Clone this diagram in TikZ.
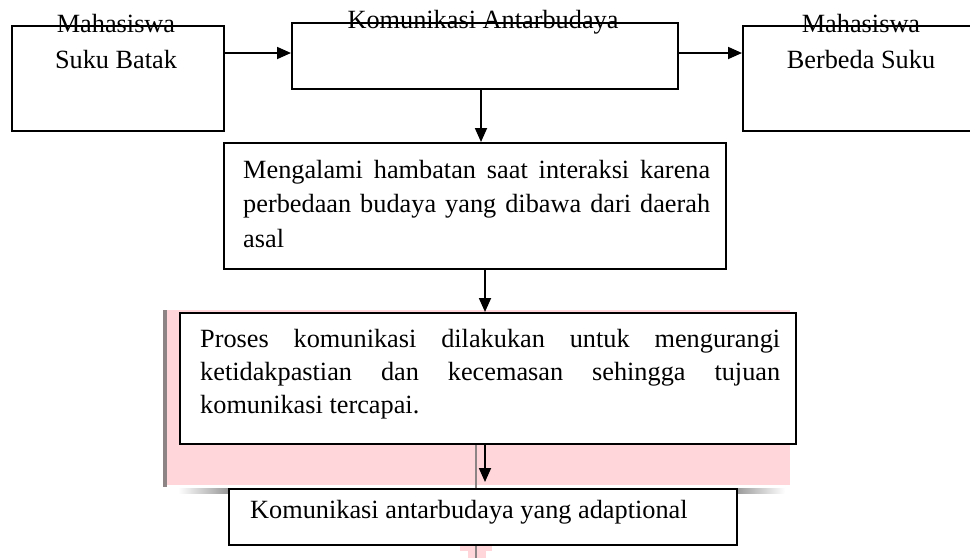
\documentclass[tikz,border=0pt]{standalone}
\usepackage{fontspec}
\setmainfont{Liberation Serif}
\usetikzlibrary{arrows.meta}
\definecolor{pinkbg}{RGB}{255,215,218}
\definecolor{bargray}{RGB}{140,132,133}
\tolerance=10000
\hbadness=10000
\begin{document}
\begin{tikzpicture}[x=1pt,y=-1pt,
  box/.style={draw, line width=1.8pt, fill=white, inner sep=0, anchor=north west},
  arr/.style={-{Triangle[length=14pt,width=12pt]}, line width=1.8pt},
  lbl/.style={inner sep=0, anchor=base, font=\fontsize{26.3}{30}\selectfont},
  para/.style={inner sep=0, anchor=base west, align=justify, font=\fontsize{26.3}{34.5}\selectfont}]
\clip (0,0) rectangle (970,558);
\fill[white] (0,0) rectangle (970,558);
% background decorations
\fill[pinkbg] (163,310) rectangle (790,485);
\fill[bargray] (163,310) rectangle (167,487);
\shade[left color=white, right color=gray!80] (178,488) rectangle (228,493);
\shade[left color=gray!80, right color=white] (736,488) rectangle (785,493);
\draw[bargray, line width=1.5pt] (476,443) -- (476,488);
\fill[pinkbg] (460,545) rectangle (492,551);
\fill[pinkbg] (468,551) rectangle (486,558);
\draw[bargray, line width=1.5pt] (476,545) -- (476,558);
% boxes
\node[box, minimum width=212pt, minimum height=105pt] (mhs1) at (11,25) {};
\node[box, minimum width=386pt, minimum height=66pt] (komb) at (291,22) {};
\node[box, minimum width=260pt, minimum height=105pt] (mhs2) at (742,25) {};
\node[box, minimum width=502pt, minimum height=126pt] (hamb) at (223,142) {};
\node[box, minimum width=616pt, minimum height=131pt] (pros) at (179,312) {};
\node[box, minimum width=508pt, minimum height=56pt] (adap) at (228,488) {};
% connectors
\coordinate (yA) at (0,53);
\coordinate (xA) at (481,0);
\coordinate (xB) at (485,0);
\draw[arr] (mhs1.east |- yA) -- (komb.west |- yA);
\draw[arr] (komb.east |- yA) -- (mhs2.west |- yA);
\draw[arr] (komb.south -| xA) -- (hamb.north -| xA);
\draw[arr] (hamb.south -| xB) -- (pros.north -| xB);
\draw[arr, shorten >=6pt] (pros.south -| xB) -- (adap.north -| xB);
% texts
\node[lbl] (t1a) at (116,32) {Mahasiswa};
\node[lbl] (t1b) at (116,68) {Suku Batak};
\node[lbl] (t2) at (483,28) {Komunikasi Antarbudaya};
\node[lbl] (t3a) at (861,32) {Mahasiswa};
\node[lbl] (t3b) at (861,68) {Berbeda Suku};
\node[para, text width=467pt] (t4) at (243,178) {Mengalami hambatan saat interaksi karena\linebreak perbedaan budaya yang dibawa dari daerah\linebreak asal};
\node[para, text width=580pt, font=\fontsize{26.3}{33}\selectfont] (t5) at (200,347) {Proses komunikasi dilakukan untuk mengurangi\linebreak ketidakpastian dan kecemasan sehingga tujuan\linebreak komunikasi tercapai.};
\node[lbl, anchor=base west] (t6) at (250,518) {Komunikasi antarbudaya yang adaptional};
\end{tikzpicture}
\end{document}
